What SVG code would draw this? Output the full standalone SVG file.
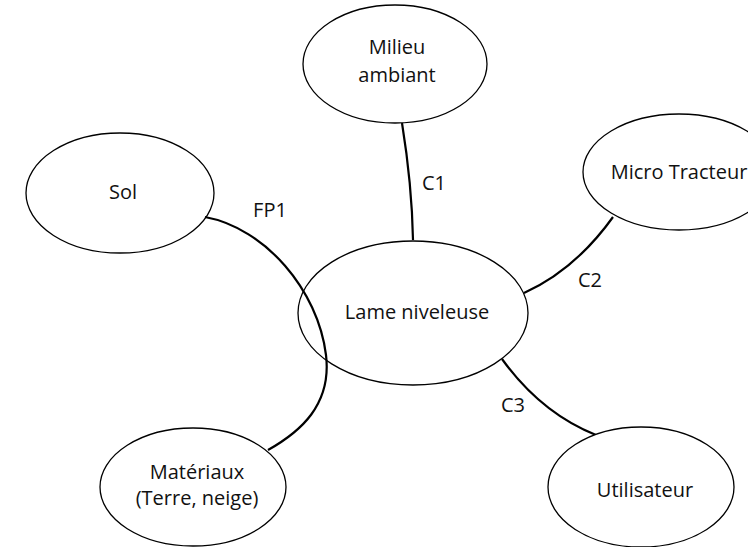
<svg xmlns="http://www.w3.org/2000/svg" width="748" height="547" viewBox="0 0 748 547">
<style>
.node ellipse{fill:#fff;stroke:#000;stroke-width:1.3}
.lbl{font-family:"Open Sans","Noto Sans","Liberation Sans",sans-serif;font-size:20px;fill:#111;text-anchor:middle}
.conn path{fill:none;stroke:#000;stroke-width:2.2}
</style>
<rect width="748" height="547" fill="#fff"/>
<g id="connectors" class="conn">
<path d="M402,123 Q412,185 413,240"/>
<path d="M613,217 Q575,270 524,293"/>
<path d="M502,359 Q541,413 596,435"/>
</g>
<g id="n-milieu" class="node"><ellipse cx="395" cy="64" rx="92" ry="59"/><text class="lbl" x="397" y="54">Milieu</text><text class="lbl" x="397" y="82">ambiant</text></g>
<g id="n-tracteur" class="node"><ellipse cx="679" cy="172" rx="96" ry="58"/><text class="lbl" x="679" y="179">Micro Tracteur</text></g>
<g id="n-sol" class="node"><ellipse cx="120" cy="193" rx="94" ry="60"/><text class="lbl" x="123" y="199">Sol</text></g>
<g id="n-lame" class="node"><ellipse cx="413" cy="313" rx="115" ry="72"/><text class="lbl" x="417" y="319">Lame niveleuse</text></g>
<g id="n-materiaux" class="node"><ellipse cx="193" cy="487" rx="93" ry="59"/><text class="lbl" x="197" y="479">Matériaux</text><text class="lbl" x="197" y="505">(Terre, neige)</text></g>
<g id="n-utilisateur" class="node"><ellipse cx="641" cy="487" rx="93" ry="60"/><text class="lbl" x="645" y="497">Utilisateur</text></g>
<g id="fp1" class="conn">
<path d="M205,217 C265,228 318,290 326,355 C332,405 300,432 268,450"/>
</g>
<g id="labels">
<text class="lbl" x="434" y="190">C1</text>
<text class="lbl" x="590" y="287">C2</text>
<text class="lbl" x="513" y="412">C3</text>
<text class="lbl" x="270" y="217">FP1</text>
</g>
</svg>
